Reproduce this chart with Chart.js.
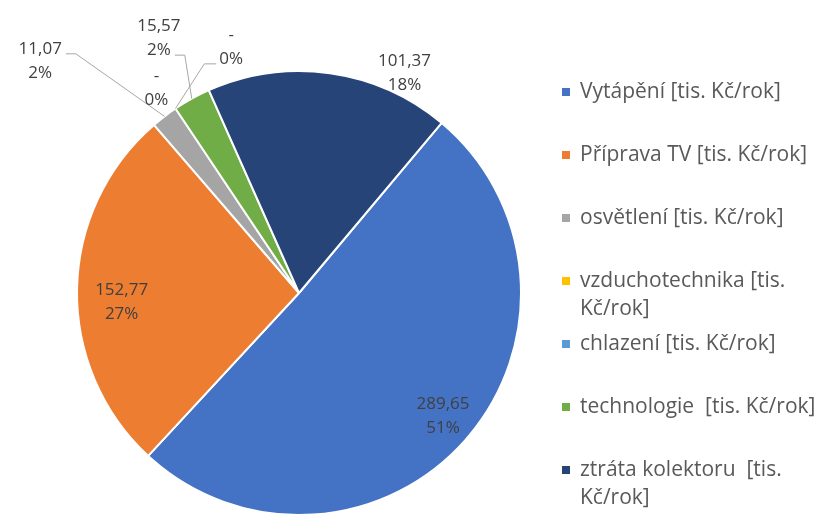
<!DOCTYPE html>
<html>
<head>
<meta charset="utf-8">
<script src="https://cdn.jsdelivr.net/npm/chart.js@4/dist/chart.umd.min.js"></script>
<style>
    html, body { margin: 0; padding: 0; background: #ffffff; }
    #obal { width: 829px; height: 518px; }
</style>
</head>
<body>
<div id="obal"><canvas id="nakladyChart" width="829" height="518"></canvas></div>
<script>
    /* =========================
       DATA
    ========================= */

    const kategorie = [
        "Vytápění [tis. Kč/rok]",
        "Příprava TV [tis. Kč/rok]",
        "osvětlení [tis. Kč/rok]",
        "vzduchotechnika [tis. Kč/rok]",
        "chlazení [tis. Kč/rok]",
        "technologie  [tis. Kč/rok]",
        "ztráta kolektoru  [tis. Kč/rok]"
    ];

    const hodnoty = [289.65, 152.77, 11.07, 0, 0, 15.57, 101.37];

    // procenta tak, jak jsou vypsana v popiscich
    const procenta = [51, 27, 2, 0, 0, 2, 18];

    const barvy = ["#4472C4", "#ED7D31", "#A5A5A5", "#FFC000", "#5B9BD5", "#70AD47", "#264478"];

    /* =========================
       UMISTENI POPISKU
       uhel od vrcholu po smeru hodin, vzdalenost v nasobcich polomeru
    ========================= */

    const umisteni = [
        { uhel: 130.5, r: 0.853 },
        { uhel: 267.1, r: 0.80 },
        { uhel: 311.9, r: 1.566, vodici: "right", radek: 0 },
        { uhel: 325.2, r: 1.125 },
        { uhel: 344.6, r: 1.15, vodici: "left", radek: 1 },
        { uhel: 331.2, r: 1.31, vodici: "right", radek: 1 },
        { uhel: 25.6, r: 1.10 }
    ];

    function formatHodnota(v){
        if(v === 0){ return "-"; }
        return v.toFixed(2).replace(".", ",");
    }

    const popiskyPlugin = {
        id: "popisky",
        afterDatasetsDraw(chart){
            const ctx = chart.ctx;
            const oblouky = chart.getDatasetMeta(0).data;
            ctx.save();
            ctx.font = "17px 'Open Sans'";
            ctx.textAlign = "center";
            ctx.textBaseline = "middle";

            oblouky.forEach(function(arc, i){
                const u = umisteni[i];
                const R = arc.outerRadius;
                const a = (u.uhel - 90) * Math.PI / 180;
                const cx = arc.x + Math.cos(a) * R * u.r;
                const cy = arc.y + Math.sin(a) * R * u.r;
                const radky = [formatHodnota(hodnoty[i]), procenta[i] + "%"];
                const y0 = cy - 12;

                if(u.vodici){
                    const mid = (arc.startAngle + arc.endAngle) / 2;
                    const ex = arc.x + Math.cos(mid) * R;
                    const ey = arc.y + Math.sin(mid) * R;
                    const w = ctx.measureText(radky[u.radek]).width;
                    const ly = y0 + u.radek * 24 + 5;
                    let sx, kx;
                    if(u.vodici === "right"){
                        sx = cx + w / 2 + 4;
                        kx = sx + 10;
                    }else{
                        sx = cx - w / 2 - 3;
                        kx = sx - 12;
                    }
                    ctx.strokeStyle = "#A6A6A6";
                    ctx.lineWidth = 1;
                    ctx.beginPath();
                    ctx.moveTo(sx, ly);
                    ctx.lineTo(kx, ly);
                    ctx.lineTo(ex, ey);
                    ctx.stroke();
                }

                ctx.fillStyle = "#404040";
                radky.forEach(function(t, j){
                    ctx.fillText(t, cx, y0 + j * 24);
                });
            });

            ctx.restore();
        }
    };

    /* =========================
       LEGENDA
    ========================= */

    const legendaPlugin = {
        id: "legenda",
        afterDraw(chart){
            const ctx = chart.ctx;
            const x = 580;
            const maxSirka = 246;
            let y = 92;
            ctx.save();
            ctx.font = "21px 'Open Sans'";
            ctx.textAlign = "left";
            ctx.textBaseline = "middle";

            kategorie.forEach(function(text, i){
                // zalamovani podle sirky
                const slova = text.split(" ");
                const radky = [];
                let aktualni = "";
                slova.forEach(function(s){
                    const zkus = aktualni === "" ? s : aktualni + " " + s;
                    if(ctx.measureText(zkus).width > maxSirka && aktualni !== ""){
                        radky.push(aktualni);
                        aktualni = s;
                    }else{
                        aktualni = zkus;
                    }
                });
                radky.push(aktualni);

                ctx.fillStyle = barvy[i];
                ctx.fillRect(x - 18, y - 4, 8, 8);
                ctx.fillStyle = "#595959";
                radky.forEach(function(r, j){
                    ctx.fillText(r.trim(), x, y + j * 28);
                });
                y += 63;
            });

            ctx.restore();
        }
    };

    /* =========================
       GRAF
    ========================= */

    new Chart(document.getElementById("nakladyChart"), {
        type: "pie",
        data: {
            labels: kategorie,
            datasets: [{
                data: hodnoty,
                backgroundColor: barvy,
                borderColor: "#ffffff",
                borderWidth: 2
            }]
        },
        options: {
            responsive: false,
            animation: false,
            rotation: 40,
            layout: {
                padding: { left: 76, top: 70, right: 307, bottom: 2 }
            },
            plugins: {
                legend: { display: false },
                tooltip: { enabled: false }
            }
        },
        plugins: [popiskyPlugin, legendaPlugin]
    });
</script>
</body>
</html>
